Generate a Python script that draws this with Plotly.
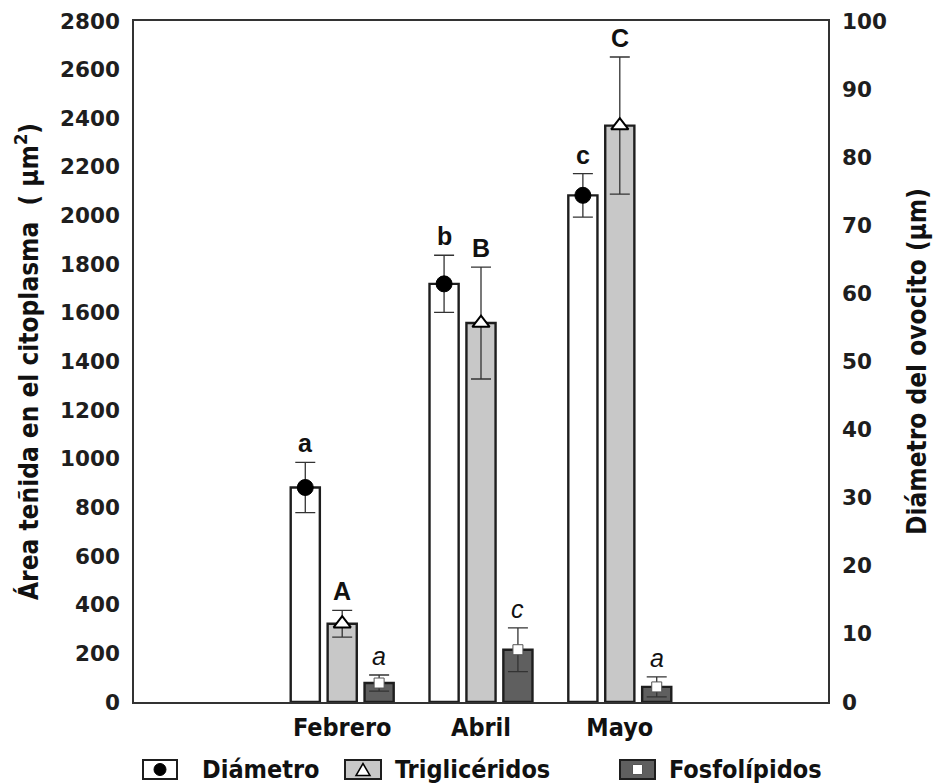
import plotly.graph_objects as go

# Sampling months and their positions on the category axis
months = ["Febrero", "Abril", "Mayo"]
month_pos = [1, 2, 3]

# Oocyte diameter (µm, right axis)
diametro = [31.5, 61.4, 74.4]
diametro_err = [3.7, 4.2, 3.2]
diametro_letters = ["a", "b", "c"]

# Stained cytoplasm area (µm², left axis)
trigliceridos = [322, 1558, 2370]
trigliceridos_err = [55, 230, 282]
trigliceridos_letters = ["A", "B", "C"]

fosfolipidos = [78, 215, 62]
fosfolipidos_err = [33, 90, 41]
fosfolipidos_letters = ["a", "c", "a"]

area_ticks = list(range(0, 2801, 200))
diam_ticks = list(range(0, 101, 10))

# Layout constants
W, H = 935, 784
ML, MR, MT, MB = 134, 107, 21, 82
BAR_W = 0.21
SHIFT = 0.266
EDGE = "#1e1e1e"
NARROW = "DejaVu Sans Condensed, Arial Narrow, sans-serif"
TICKFONT = dict(family="DejaVu Sans, Arial, sans-serif", size=21.5, color="#1e1e1e", weight="bold")
LETTER_FAMILY = "Liberation Sans, Arial, sans-serif"

series = [
    dict(name="Diámetro", y=diametro, err=diametro_err, letters=diametro_letters,
         axis="y2", fill="white", shift=-SHIFT,
         marker=dict(symbol="circle", size=16, color="black", line=dict(color="black", width=1)),
         lfont=dict(size=25, weight="bold", style="normal")),
    dict(name="Triglicéridos", y=trigliceridos, err=trigliceridos_err, letters=trigliceridos_letters,
         axis="y", fill="#c8c8c8", shift=0.0,
         marker=dict(symbol="triangle-up", size=15, color="white", line=dict(color="black", width=2)),
         lfont=dict(size=25, weight="bold", style="normal")),
    dict(name="Fosfolípidos", y=fosfolipidos, err=fosfolipidos_err, letters=fosfolipidos_letters,
         axis="y", fill="#5f5f5f", shift=SHIFT,
         marker=dict(symbol="square", size=10, color="white", line=dict(color="#555555", width=1)),
         lfont=dict(size=25, weight="normal", style="italic")),
]

fig = go.Figure()
annotations = []
for s in series:
    xs = [p + s["shift"] for p in month_pos]
    fig.add_trace(go.Bar(
        x=xs, y=s["y"], yaxis=s["axis"], width=BAR_W, name=s["name"],
        marker=dict(color=s["fill"], line=dict(color=EDGE, width=2.4)),
        showlegend=False,
    ))
    fig.add_trace(go.Scatter(
        x=xs, y=s["y"], yaxis=s["axis"], mode="markers", name=s["name"],
        marker=s["marker"],
        error_y=dict(type="data", array=s["err"], visible=True,
                     color="#333333", thickness=1.3, width=10),
        showlegend=False,
    ))
    for x, v, e, t in zip(xs, s["y"], s["err"], s["letters"]):
        annotations.append(dict(
            x=x, y=v + e, xref="x", yref=s["axis"], text=t, showarrow=False,
            yanchor="bottom", yshift=3,
            font=dict(family=LETTER_FAMILY, color="#111111", **s["lfont"]),
        ))

# Legend drawn below the plot: framed swatch with the series marker inside
pw, ph = W - ML - MR, H - MT - MB


def px_x(px):
    return (px - ML) / pw


def px_y(py):
    return (H - MB - py) / ph


legend_items = [
    dict(name="Diámetro", fill="white", box=(143, 177), text_x=200, kind="circle"),
    dict(name="Triglicéridos", fill="#c8c8c8", box=(345, 381), text_x=393, kind="triangle"),
    dict(name="Fosfolípidos", fill="#5f5f5f", box=(620, 655), text_x=667, kind="square"),
]
LY0, LY1 = 760, 779
shapes = []
for it in legend_items:
    x0, x1 = it["box"]
    shapes.append(dict(type="rect", xref="paper", yref="paper",
                       x0=px_x(x0), x1=px_x(x1), y0=px_y(LY1), y1=px_y(LY0),
                       fillcolor=it["fill"], line=dict(color=EDGE, width=2)))
    cx, cy = (x0 + x1) / 2, (LY0 + LY1) / 2
    if it["kind"] == "circle":
        shapes.append(dict(type="circle", xref="paper", yref="paper",
                           x0=px_x(cx - 6), x1=px_x(cx + 6), y0=px_y(cy + 6), y1=px_y(cy - 6),
                           fillcolor="black", line=dict(color="black", width=1)))
    elif it["kind"] == "triangle":
        p = [(cx - 7, cy + 6), (cx + 7, cy + 6), (cx, cy - 6)]
        path = "M{:.5f},{:.5f} L{:.5f},{:.5f} L{:.5f},{:.5f} Z".format(
            px_x(p[0][0]), px_y(p[0][1]), px_x(p[1][0]), px_y(p[1][1]), px_x(p[2][0]), px_y(p[2][1]))
        shapes.append(dict(type="path", xref="paper", yref="paper", path=path,
                           fillcolor="white", line=dict(color="black", width=1.5)))
    else:
        shapes.append(dict(type="rect", xref="paper", yref="paper",
                           x0=px_x(cx - 5), x1=px_x(cx + 5), y0=px_y(cy + 5), y1=px_y(cy - 5),
                           fillcolor="white", line=dict(color="#555555", width=1)))
    annotations.append(dict(
        x=px_x(it["text_x"]), y=px_y(cy), xref="paper", yref="paper", text=it["name"],
        showarrow=False, xanchor="left", yanchor="middle",
        font=dict(family=NARROW, size=25, color="#111111", weight="bold"),
    ))

axis_line = dict(showline=True, linecolor="#333333", linewidth=1.6, showgrid=False,
                 zeroline=False, ticks="")
TITLEFONT = dict(family=NARROW, size=26, color="#111111", weight="bold")

fig.update_layout(
    width=W, height=H,
    margin=dict(l=ML, r=MR, t=MT, b=MB, autoexpand=False),
    paper_bgcolor="white", plot_bgcolor="white",
    barmode="overlay",
    xaxis=dict(range=[-0.5, 4.5], tickvals=month_pos, ticktext=months,
               tickfont=dict(family=NARROW, size=25, color="#111111", weight="bold"),
               ticklabelstandoff=2, mirror=True, **axis_line),
    yaxis=dict(range=[0, 2800], tickvals=area_ticks, tickfont=TICKFONT,
               ticklabelstandoff=8,
               title=dict(text="Área teñida en el citoplasma  ( µm<sup>2</sup>)",
                          font=TITLEFONT, standoff=14),
               **axis_line),
    yaxis2=dict(range=[0, 100], tickvals=diam_ticks, tickfont=TICKFONT,
                overlaying="y", side="right", anchor="x",
                ticklabelstandoff=8,
                title=dict(text="Diámetro del ovocito (µm)", font=TITLEFONT, standoff=22),
                **axis_line),
    annotations=annotations,
    shapes=shapes,
    showlegend=False,
)

fig.write_html("out.html")
